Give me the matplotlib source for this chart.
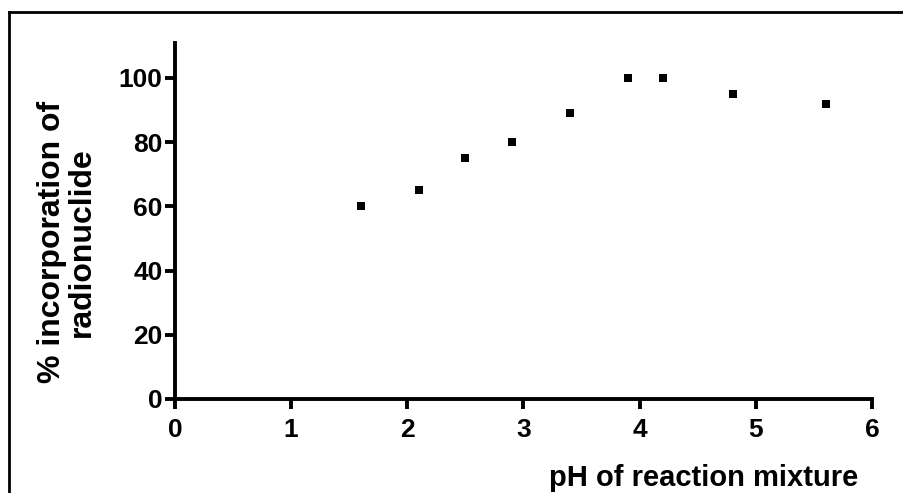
import matplotlib
matplotlib.use("Agg")
import matplotlib.pyplot as plt
from matplotlib.lines import Line2D

ph = [1.6, 2.1, 2.5, 2.9, 3.4, 3.9, 4.2, 4.8, 5.6]
incorporation = [60, 65, 75, 80, 89, 100, 100, 95, 92]
xticks = [0, 1, 2, 3, 4, 5, 6]
yticks = [0, 20, 40, 60, 80, 100]

plt.rcParams['font.family'] = ['Liberation Sans', 'DejaVu Sans']
plt.rcParams['font.weight'] = 'bold'

W, H = 904, 493
fig = plt.figure(figsize=(W/100, H/100), dpi=100)
ax = fig.add_axes([175/W, 1-399/H, (872-175)/W, (399-43)/H])
ax.scatter(ph, incorporation, marker='s', s=28, color='black', linewidths=0, zorder=3)
ax.set_xlim(0, 6)
ax.set_ylim(0, 110.9)
ax.set_xticks(xticks)
ax.set_yticks(yticks)
for s in ['top', 'right']:
    ax.spines[s].set_visible(False)
for s in ['left', 'bottom']:
    ax.spines[s].set_linewidth(2.8)
ax.tick_params(width=2.8, length=7, labelsize=19)
ax.tick_params(axis='x', pad=7)
ax.tick_params(axis='y', pad=2)
for lab in ax.get_xticklabels() + ax.get_yticklabels():
    lab.set_fontweight('bold')

fig.text(858/W, 1-478/H, 'pH of reaction mixture', ha='right', va='center',
         fontsize=21, fontweight='bold')
fig.text(67/W, 1-242/H, '% incorporation of\nradionuclide', ha='center', va='center',
         rotation=90, fontsize=23, fontweight='bold', linespacing=1.0, multialignment='center')

fig.add_artist(Line2D([9/W, 9/W], [0, 1-12/H], transform=fig.transFigure, color='black', linewidth=2))
fig.add_artist(Line2D([9/W, 1], [1-12/H, 1-12/H], transform=fig.transFigure, color='black', linewidth=2))

fig.savefig('out.png', dpi=100)
